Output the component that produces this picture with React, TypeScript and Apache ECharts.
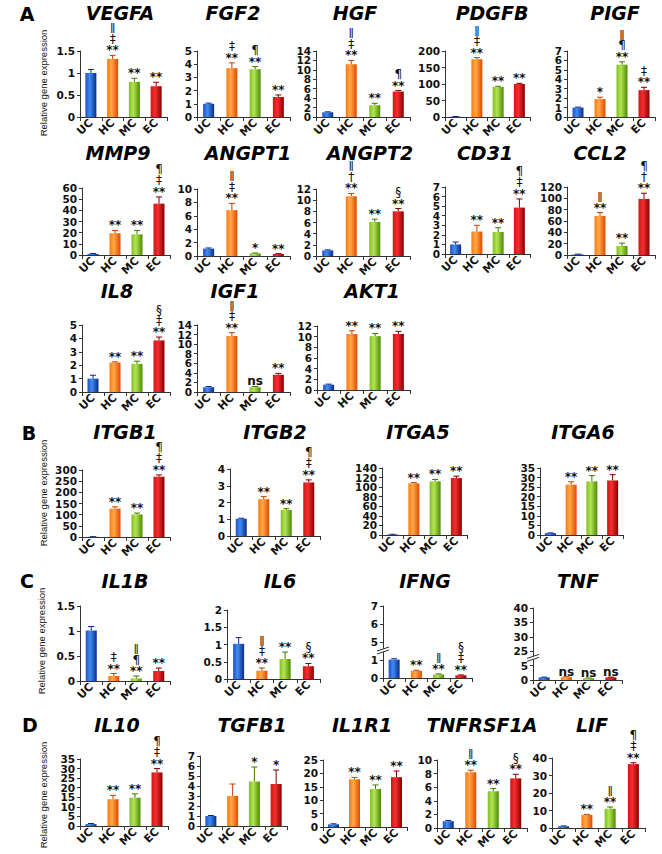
import React, { useEffect, useRef } from "react";
import * as echarts from "echarts";

const categories = ["UC", "HC", "MC", "EC"];
const genes = [
  "VEGFA", "FGF2", "HGF", "PDGFB", "PIGF",
  "MMP9", "ANGPT1", "ANGPT2", "CD31", "CCL2",
  "IL8", "IGF1", "AKT1",
  "ITGB1", "ITGB2", "ITGA5", "ITGA6",
  "IL1B", "IL6", "IFNG", "TNF",
  "IL10", "TGFB1", "IL1R1", "TNFRSF1A", "LIF",
];
const ucValues = [1.0, 1.0, 1.0, 1.0, 1.0, 1.0, 1.1, 1.0, 1.0, 1.0, 1.0, 1.0, 1.0, 1.0, 1.03, 1.0, 1.0, 1.01, 1.02, 1.02, 0.9, 1.0, 1.0, 1.0, 1.0, 1.0];
const hcValues = [1.32, 3.7, 11.2, 175, 1.9, 19.5, 6.85, 10.7, 2.35, 69, 2.2, 11.7, 10.5, 127, 2.2, 108, 26.3, 0.1, 0.24, 0.4, 1.0, 14, 3.0, 17.8, 8.2, 7.5];
const mcValues = [0.8, 3.62, 2.5, 91, 5.55, 18.5, 0.4, 6.1, 2.3, 16, 2.1, 1.0, 10.1, 101, 1.55, 112, 28, 0.05, 0.58, 0.2, 0.6, 14.8, 4.45, 14.2, 5.4, 11];
const ecValues = [0.7, 1.52, 5.4, 100, 2.85, 46, 0.3, 8.0, 4.85, 99, 3.85, 3.6, 10.5, 270, 3.2, 119, 28.5, 0.2, 0.37, 0.15, 0.9, 28, 4.2, 18.6, 7.3, 36.5];
const ucErrors = [0.08, 0.05, 0.1, 0.5, 0.05, 0.3, 0.1, 0.1, 0.25, 0.5, 0.25, 0.15, 0.1, 0.5, 0.03, 0.5, 0.1, 0.08, 0.18, 0.05, 0.1, 0.3, 0.05, 0.2, 0.1, 0.2];
const hcErrors = [0.08, 0.4, 0.8, 5, 0.2, 2.5, 1.0, 0.5, 0.65, 6, 0.05, 0.7, 0.6, 8, 0.15, 1.5, 1.5, 0.05, 0.08, 0.03, 0.15, 2, 1.2, 0.7, 0.3, 0.3];
const mcErrors = [0.08, 0.2, 0.4, 2, 0.3, 3.5, 0.05, 0.5, 0.45, 5, 0.2, 0.15, 0.5, 6, 0.08, 4, 3, 0.05, 0.2, 0.03, 0.1, 2, 1.45, 1.5, 0.4, 1];
const ecErrors = [0.09, 0.15, 0.2, 2, 0.3, 6, 0.05, 0.5, 0.9, 10, 0.25, 0.3, 0.5, 8, 0.15, 4, 3, 0.06, 0.08, 0.02, 0.1, 2, 1.4, 2.3, 0.6, 0.8];
const hcMarks = ["ǁ\n‡\n**", "‡\n**", "ǁ\n‡\n**", "ǁ\n‡\n**", "*", "**", "ǁ\n‡\n**", "ǁ\n†\n**", "**", "ǁ\n**", "**", "ǁ\n‡\n**", "**", "**", "**", "**", "**", "‡\n**", "ǁ\n‡\n**", "**", "ns", "**", "", "**", "ǁ\n**", "**"];
const mcMarks = ["**", "¶\n**", "**", "**", "ǁ\n¶\n**", "**", "*", "**", "**", "**", "**", "ns", "**", "**", "**", "**", "**", "ǁ\n¶\n**", "**", "ǁ\n**", "ns", "**", "*", "**", "**", "ǁ\n**"];
const ecMarks = ["**", "**", "¶\n**", "**", "‡\n**", "¶\n‡\n**", "**", "§\n**", "¶\n‡\n**", "¶\n†\n**", "§\n‡\n**", "**", "**", "¶\n‡\n**", "¶\n‡\n**", "**", "**", "**", "§\n**", "§\n‡\n**", "ns", "¶\n‡\n**", "*", "**", "§\n**", "¶\n‡\n**"];
const yMaxes = [1.5, 5, 14, 200, 7, 60, 10, 12, 7, 120, 5, 14, 12, 300, 4, 140, 35, 1.5, 2, 7, 40, 35, 7, 25, 10, 40];
const yIntervals = [0.5, 1, 2, 50, 1, 10, 2, 2, 1, 20, 1, 2, 2, 50, 1, 20, 5, 0.5, 0.5, 1, 1, 5, 1, 5, 2, 10];
const ifngTicks = ["0", "1", "5", "6", "7"];
const tnfTicks = ["0", "5", "25", "30", "35", "40"];
const panelLetters = ["A", "B", "C", "D"];
const yTitle = "Relative gene expression";

// layout: [gridLeft, gridWidth, gridTop, gridBottom, titleX, titleY]
const layout = [
  [80, 87, 51, 117, 120, 13],
  [197, 93, 51, 117, 233, 13],
  [316, 94, 51, 117, 355, 13],
  [445, 85, 51, 117, 492, 13],
  [567, 88, 51, 117, 615, 13],
  [82, 88, 188, 255, 118, 153],
  [197, 93, 189, 256, 248, 153],
  [316, 94, 189, 256, 370, 153],
  [445, 85, 187, 254, 485, 153],
  [567, 88, 187, 255, 600, 153],
  [82, 88, 325, 392, 117, 291],
  [197, 93, 325, 392, 235, 291],
  [317, 93, 326, 390, 372, 291],
  [82, 88, 470, 537, 125, 432],
  [230, 90, 469, 536, 275, 432],
  [382, 85, 468, 535, 418, 432],
  [540, 83, 468, 535, 583, 432],
  [80, 90, 606, 681, 125, 581],
  [227, 93, 610, 679, 280, 581],
  [383, 89, 606, 678, 425, 581],
  [533, 89, 608, 680, 578, 581],
  [80, 88, 759, 826, 117, 725],
  [200, 87, 756, 826, 252, 725],
  [323, 84, 760, 827, 362, 725],
  [437, 90, 760, 828, 482, 725],
  [552, 93, 758, 828, 592, 725],
];
const letterPos = [[27, 14], [29, 433], [27, 581], [30, 725]];
const yTitlePos = [[43, 83], [43, 493], [41, 641], [43, 795]];

const FONT = '"DejaVu Sans", sans-serif';

function grad(c0: string, c1: string, c2: string) {
  return new echarts.graphic.LinearGradient(0, 0, 1, 0, [
    { offset: 0, color: c0 },
    { offset: 0.4, color: c1 },
    { offset: 1, color: c2 },
  ]);
}

function richMark(mark: string) {
  return mark
    .split("\n")
    .map((l) => (l === "**" || l === "*" || l === "ns" ? `{a|${l}}` : l === "ǁ" ? `{d|${l}}` : `{s|${l}}`))
    .join("\n");
}

function tickLabels(i: number, broken: string[] | null): [number, string][] {
  if (broken) return broken.map((t, k) => [k, t]);
  const out: [number, string][] = [];
  const n = Math.round(yMaxes[i] / yIntervals[i]);
  for (let k = 0; k <= n; k++) {
    const v = Math.round(k * yIntervals[i] * 100) / 100;
    out.push([v, String(v)]);
  }
  return out;
}

function buildOption() {
  const fills = [
    grad("#1e50c8", "#3f8df0", "#0a2a8a"),
    grad("#ff7a10", "#ffa848", "#e04800"),
    grad("#80c020", "#b4e456", "#4a8a00"),
    grad("#d81010", "#f23030", "#8a0000"),
  ];
  const darks = ["#0a2a8a", "#c04000", "#3f7a00", "#7a0000"];
  const grid: any[] = [];
  const xAxis: any[] = [];
  const yAxis: any[] = [];
  const series: any[] = [];
  const graphic: any[] = [];

  genes.forEach((g, i) => {
    const [left, width, top, bottom, tx, ty] = layout[i];
    const broken = g === "IFNG" ? ifngTicks : g === "TNF" ? tnfTicks : null;
    const lowUnit = g === "TNF" ? 5 : 1;
    const map = (v: number) => (broken ? v / lowUnit : v);
    const values = [ucValues[i], hcValues[i], mcValues[i], ecValues[i]];
    const errs = [ucErrors[i], hcErrors[i], mcErrors[i], ecErrors[i]];
    const marks = ["", hcMarks[i], mcMarks[i], ecMarks[i]];
    const ticks = tickLabels(i, broken);

    grid.push({ left, top, width, height: bottom - top });
    xAxis.push({
      type: "category",
      gridIndex: i,
      data: categories,
      axisLine: { show: true, lineStyle: { color: "#333", width: 1 } },
      axisTick: { show: true, length: 4, lineStyle: { color: "#333" } },
      axisLabel: {
        rotate: 45, interval: 0, margin: 4, hideOverlap: false,
        fontFamily: FONT, fontWeight: "bold", fontSize: 11, color: "#111",
      },
      splitLine: { show: false },
    });
    yAxis.push({
      type: "value",
      gridIndex: i,
      min: 0,
      max: broken ? broken.length - 1 : yMaxes[i],
      interval: broken ? 1 : yIntervals[i],
      axisLine: { show: true, lineStyle: { color: "#333", width: 1 } },
      axisTick: { show: true, length: 3, lineStyle: { color: "#333" } },
      splitLine: { show: false },
      axisLabel: { show: false },
    });
    // y tick labels, placed through the axis scale
    series.push({
      type: "custom",
      xAxisIndex: i,
      yAxisIndex: i,
      silent: true,
      z: 4,
      data: ticks.map((t) => [0, t[0]]),
      renderItem: (params: any, api: any) => {
        const p = api.coord([0, api.value(1)]);
        return {
          type: "text",
          style: {
            text: ticks[params.dataIndex][1],
            x: params.coordSys.x - 5, y: p[1],
            textAlign: "right", textVerticalAlign: "middle", align: "right", verticalAlign: "middle",
            font: `bold 10.5px ${FONT}`, fill: "#111",
          },
        };
      },
    });
    series.push({
      type: "bar",
      xAxisIndex: i,
      yAxisIndex: i,
      barWidth: 11,
      silent: true,
      data: values.map((v, k) => ({ value: map(v), itemStyle: { color: fills[k] } })),
    });
    series.push({
      type: "custom",
      xAxisIndex: i,
      yAxisIndex: i,
      silent: true,
      z: 5,
      data: values.map((v, k) => [k, map(v), map(errs[k])]),
      renderItem: (params: any, api: any) => {
        const k = api.value(0);
        const v = api.value(1);
        const e = api.value(2);
        const p0 = api.coord([k, v]);
        const p1 = api.coord([k, v + e]);
        const children: any[] = [
          { type: "line", shape: { x1: p0[0], y1: p0[1], x2: p1[0], y2: p1[1] }, style: { stroke: darks[k], lineWidth: 1 } },
          { type: "line", shape: { x1: p1[0] - 3, y1: p1[1], x2: p1[0] + 3, y2: p1[1] }, style: { stroke: darks[k], lineWidth: 1 } },
        ];
        const mark = marks[k];
        if (mark) {
          children.push({
            type: "text",
            style: {
              text: richMark(mark), x: p1[0], y: p1[1] + 1,
              textAlign: "center", textVerticalAlign: "bottom",
              align: "center", verticalAlign: "bottom",
              fill: "#111",
              rich: {
                a: { font: `bold 12px ${FONT}`, fill: "#111", lineHeight: 12, align: "center" },
                s: { font: `12px ${FONT}`, fill: "#111", lineHeight: 11, align: "center" },
                d: { font: `10px ${FONT}`, fill: "#111", lineHeight: 11, align: "center" },
              },
            },
          });
        }
        return { type: "group", children };
      },
    });
    if (broken) {
      series.push({
        type: "custom",
        xAxisIndex: i,
        yAxisIndex: i,
        silent: true,
        z: 6,
        data: [[0, 1.5]],
        renderItem: (params: any, api: any) => {
          const p = api.coord([0, 1.5]);
          const x = params.coordSys.x;
          const y = p[1];
          return {
            type: "group",
            children: [
              { type: "polygon", shape: { points: [[x - 6, y], [x + 6, y - 4], [x + 6, y - 1], [x - 6, y + 3]] }, style: { fill: "#fff" } },
              { type: "line", shape: { x1: x - 6, y1: y, x2: x + 6, y2: y - 4 }, style: { stroke: "#333", lineWidth: 1 } },
              { type: "line", shape: { x1: x - 6, y1: y + 3, x2: x + 6, y2: y - 1 }, style: { stroke: "#333", lineWidth: 1 } },
            ],
          };
        },
      });
    }
    graphic.push({
      type: "text", x: tx, y: ty, silent: true,
      style: {
        text: g, font: `italic bold 19px ${FONT}`, fill: "#000",
        textAlign: "center", textVerticalAlign: "middle", align: "center", verticalAlign: "middle",
      },
    });
  });

  panelLetters.forEach((l, j) => {
    graphic.push({
      type: "text", x: letterPos[j][0], y: letterPos[j][1], silent: true,
      style: {
        text: l, font: `bold 19px ${FONT}`, fill: "#000",
        textAlign: "center", textVerticalAlign: "middle", align: "center", verticalAlign: "middle",
      },
    });
    graphic.push({
      type: "text", x: yTitlePos[j][0], y: yTitlePos[j][1], rotation: Math.PI / 2, silent: true,
      style: {
        text: yTitle, font: '9.5px "Liberation Sans", Arial, sans-serif', fill: "#111",
        textAlign: "center", textVerticalAlign: "middle", align: "center", verticalAlign: "middle",
      },
    });
  });

  return {
    animation: false,
    backgroundColor: "#fff",
    grid, xAxis, yAxis, series, graphic,
  };
}

export default function App() {
  const ref = useRef<HTMLDivElement>(null);
  useEffect(() => {
    document.body.style.margin = "0";
    if (!ref.current) return;
    const chart = echarts.init(ref.current, undefined, { renderer: "svg" });
    chart.setOption(buildOption() as any);
    return () => chart.dispose();
  }, []);
  return <div ref={ref} style={{ width: 662, height: 854 }} />;
}
